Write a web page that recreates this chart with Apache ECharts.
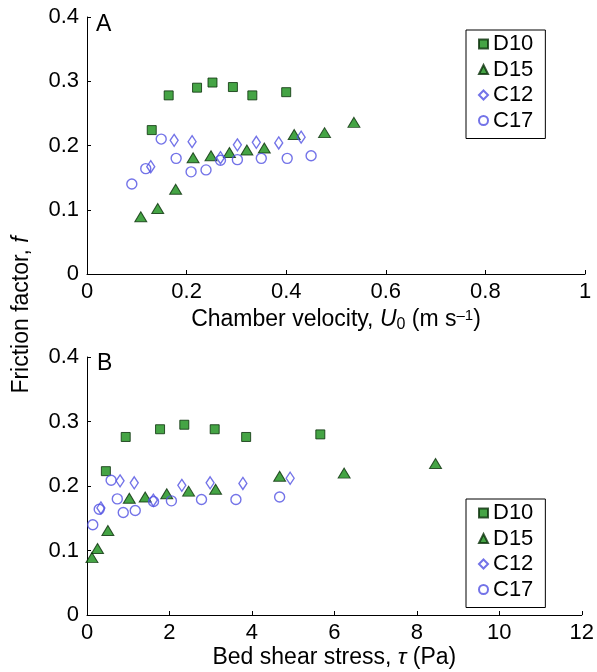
<!DOCTYPE html>
<html>
<head>
<meta charset="utf-8">
<script src="https://cdn.jsdelivr.net/npm/echarts@6/dist/echarts.min.js"></script>
<style>
html,body{margin:0;padding:0;background:#fff;}
#chart{width:597px;height:672px;}
</style>
</head>
<body>
<div id="chart"></div>
<script>
// Panel A: friction factor vs chamber velocity U0 (m/s)
const xA_D10 = [0.130, 0.164, 0.221, 0.252, 0.293, 0.332, 0.400];
const fA_D10 = [0.224, 0.278, 0.290, 0.298, 0.291, 0.278, 0.283];
const xA_D15 = [0.108, 0.142, 0.178, 0.213, 0.249, 0.286, 0.321, 0.356, 0.416, 0.477, 0.536];
const fA_D15 = [0.089, 0.102, 0.132, 0.181, 0.184, 0.189, 0.193, 0.196, 0.217, 0.220, 0.236];
const xA_C12 = [0.128, 0.175, 0.211, 0.268, 0.302, 0.340, 0.385, 0.430];
const fA_C12 = [0.167, 0.208, 0.206, 0.181, 0.201, 0.205, 0.204, 0.213];
const xA_C17 = [0.090, 0.118, 0.149, 0.179, 0.209, 0.239, 0.268, 0.302, 0.350, 0.402, 0.450];
const fA_C17 = [0.140, 0.164, 0.210, 0.180, 0.159, 0.162, 0.177, 0.178, 0.180, 0.180, 0.184];

// Panel B: friction factor vs bed shear stress tau (Pa)
const xB_D10 = [0.458, 0.939, 1.772, 2.360, 3.097, 3.860, 5.659];
const fB_D10 = [0.223, 0.276, 0.288, 0.295, 0.288, 0.276, 0.280];
const xB_D15 = [0.120, 0.255, 0.506, 1.026, 1.411, 1.934, 2.464, 3.119, 4.672, 6.237, 8.453];
const fB_D15 = [0.089, 0.103, 0.131, 0.181, 0.183, 0.188, 0.192, 0.195, 0.215, 0.220, 0.235];
const xB_C12 = [0.337, 0.802, 1.146, 1.609, 2.300, 2.986, 3.781, 4.927];
const fB_C12 = [0.166, 0.208, 0.205, 0.178, 0.201, 0.205, 0.204, 0.212];
const xB_C17 = [0.140, 0.296, 0.585, 0.735, 0.879, 1.170, 1.614, 2.047, 2.777, 3.612, 4.672];
const fB_C17 = [0.140, 0.164, 0.209, 0.180, 0.159, 0.162, 0.176, 0.177, 0.179, 0.179, 0.183];

const seriesNames = ['D10', 'D15', 'C12', 'C17'];
const yTicks = [0, 0.1, 0.2, 0.3, 0.4];

const FONT = "'Liberation Sans', Arial, Helvetica, sans-serif";
const FS = 22;
const FT = 23;
const GREEN = '#178d17';
const GREEN_DARK = '#0a300a';
const BLUE = '#5050e2';

function zip(xs, ys) { return xs.map((x, i) => [x, ys[i]]); }

const styles = {
  D10: { symbol: 'rect', symbolSize: 9, itemStyle: { color: GREEN, borderColor: GREEN_DARK, borderWidth: 1 } },
  D15: { symbol: 'triangle', symbolSize: [12, 10], itemStyle: { color: GREEN, borderColor: GREEN_DARK, borderWidth: 1 } },
  C12: { symbol: 'diamond', symbolSize: [8, 12], itemStyle: { color: 'rgba(255,255,255,0)', borderColor: BLUE, borderWidth: 1.4 } },
  C17: { symbol: 'circle', symbolSize: 10, itemStyle: { color: 'rgba(255,255,255,0)', borderColor: BLUE, borderWidth: 1.4 } }
};

function mkSeries(name, xi, data) {
  const s = styles[name];
  return {
    type: 'scatter', name: name, xAxisIndex: xi, yAxisIndex: xi,
    symbol: s.symbol, symbolSize: s.symbolSize, itemStyle: s.itemStyle,
    data: data, animation: false, emphasis: { disabled: true }
  };
}

const axisCommon = {
  axisLine: { lineStyle: { color: '#000', width: 1 } },
  axisTick: { inside: true, length: 4, lineStyle: { color: '#000' } },
  axisLabel: { color: '#000', fontSize: FS, fontFamily: FONT },
  splitLine: { show: false }
};

function yAxis(gi) {
  return Object.assign({}, axisCommon, {
    type: 'value', gridIndex: gi, min: yTicks[0], max: yTicks[yTicks.length - 1], interval: 0.1,
    axisLabel: Object.assign({}, axisCommon.axisLabel, { margin: 8, formatter: v => v === 0 ? '0' : v.toFixed(1) })
  });
}

const nameRich = {
  n: { fontSize: FT, fontFamily: FONT, color: '#000' },
  i: { fontSize: FT, fontFamily: FONT, fontStyle: 'italic', color: '#000' },
  sub: { fontSize: 16, fontFamily: FONT, color: '#000', padding: [11, 0, 0, 0] },
  sup: { fontSize: 15, fontFamily: FONT, color: '#000', padding: [0, 0, 8, 0] }
};

function legend(top) {
  return {
    orient: 'vertical', left: 466, top: top,
    padding: [3, 12, 7, 12], itemGap: 3.5, itemWidth: 9, itemHeight: 9,
    borderColor: '#000', borderWidth: 1, backgroundColor: '#fff',
    textStyle: { fontSize: FS, fontFamily: FONT, color: '#000', lineHeight: 22 },
    selectedMode: false,
    data: [
      { name: 'D10', icon: 'rect' },
      { name: 'D15', icon: 'triangle' },
      { name: 'C12', icon: 'diamond' },
      { name: 'C17', icon: 'circle' }
    ]
  };
}

const option = {
  backgroundColor: '#fff',
  animation: false,
  textStyle: { fontFamily: FONT },
  grid: [
    { left: 87, top: 17, width: 498, height: 257 },
    { left: 87, top: 357, width: 498, height: 258 }
  ],
  xAxis: [
    Object.assign({}, axisCommon, {
      type: 'value', gridIndex: 0, min: 0, max: 1, interval: 0.2,
      axisLabel: Object.assign({}, axisCommon.axisLabel, { margin: 7 }),
      name: '{n|Chamber velocity, }{i|U}{sub|0}{n| (m s}{sup|–1}{n|)}',
      nameLocation: 'middle', nameGap: 32,
      nameTextStyle: { rich: nameRich }
    }),
    Object.assign({}, axisCommon, {
      type: 'value', gridIndex: 1, min: 0, max: 12, interval: 2,
      axisLabel: Object.assign({}, axisCommon.axisLabel, { margin: 7 }),
      name: '{n|Bed shear stress, }{i|τ}{n| (Pa)}',
      nameLocation: 'middle', nameGap: 31,
      nameTextStyle: { rich: nameRich }
    })
  ],
  yAxis: [yAxis(0), yAxis(1)],
  legend: [legend(30), legend(499)],
  graphic: [
    { type: 'text', x: 22, y: 315, rotation: Math.PI / 2,
      style: { text: '{n|Friction factor, }{i|f}', rich: nameRich, align: 'center', verticalAlign: 'middle' } },
    { type: 'text', x: 96, y: 25,
      style: { text: 'A', fontSize: FT, fontFamily: FONT, fill: '#000', align: 'left', verticalAlign: 'middle' } },
    { type: 'text', x: 97, y: 364,
      style: { text: 'B', fontSize: FT, fontFamily: FONT, fill: '#000', align: 'left', verticalAlign: 'middle' } }
  ],
  series: [
    mkSeries('D10', 0, zip(xA_D10, fA_D10)),
    mkSeries('D15', 0, zip(xA_D15, fA_D15)),
    mkSeries('C12', 0, zip(xA_C12, fA_C12)),
    mkSeries('C17', 0, zip(xA_C17, fA_C17)),
    mkSeries('D10', 1, zip(xB_D10, fB_D10)),
    mkSeries('D15', 1, zip(xB_D15, fB_D15)),
    mkSeries('C12', 1, zip(xB_C12, fB_C12)),
    mkSeries('C17', 1, zip(xB_C17, fB_C17))
  ]
};

const chart = echarts.init(document.getElementById('chart'), null, { renderer: 'canvas' });
chart.setOption(option);
</script>
</body>
</html>
